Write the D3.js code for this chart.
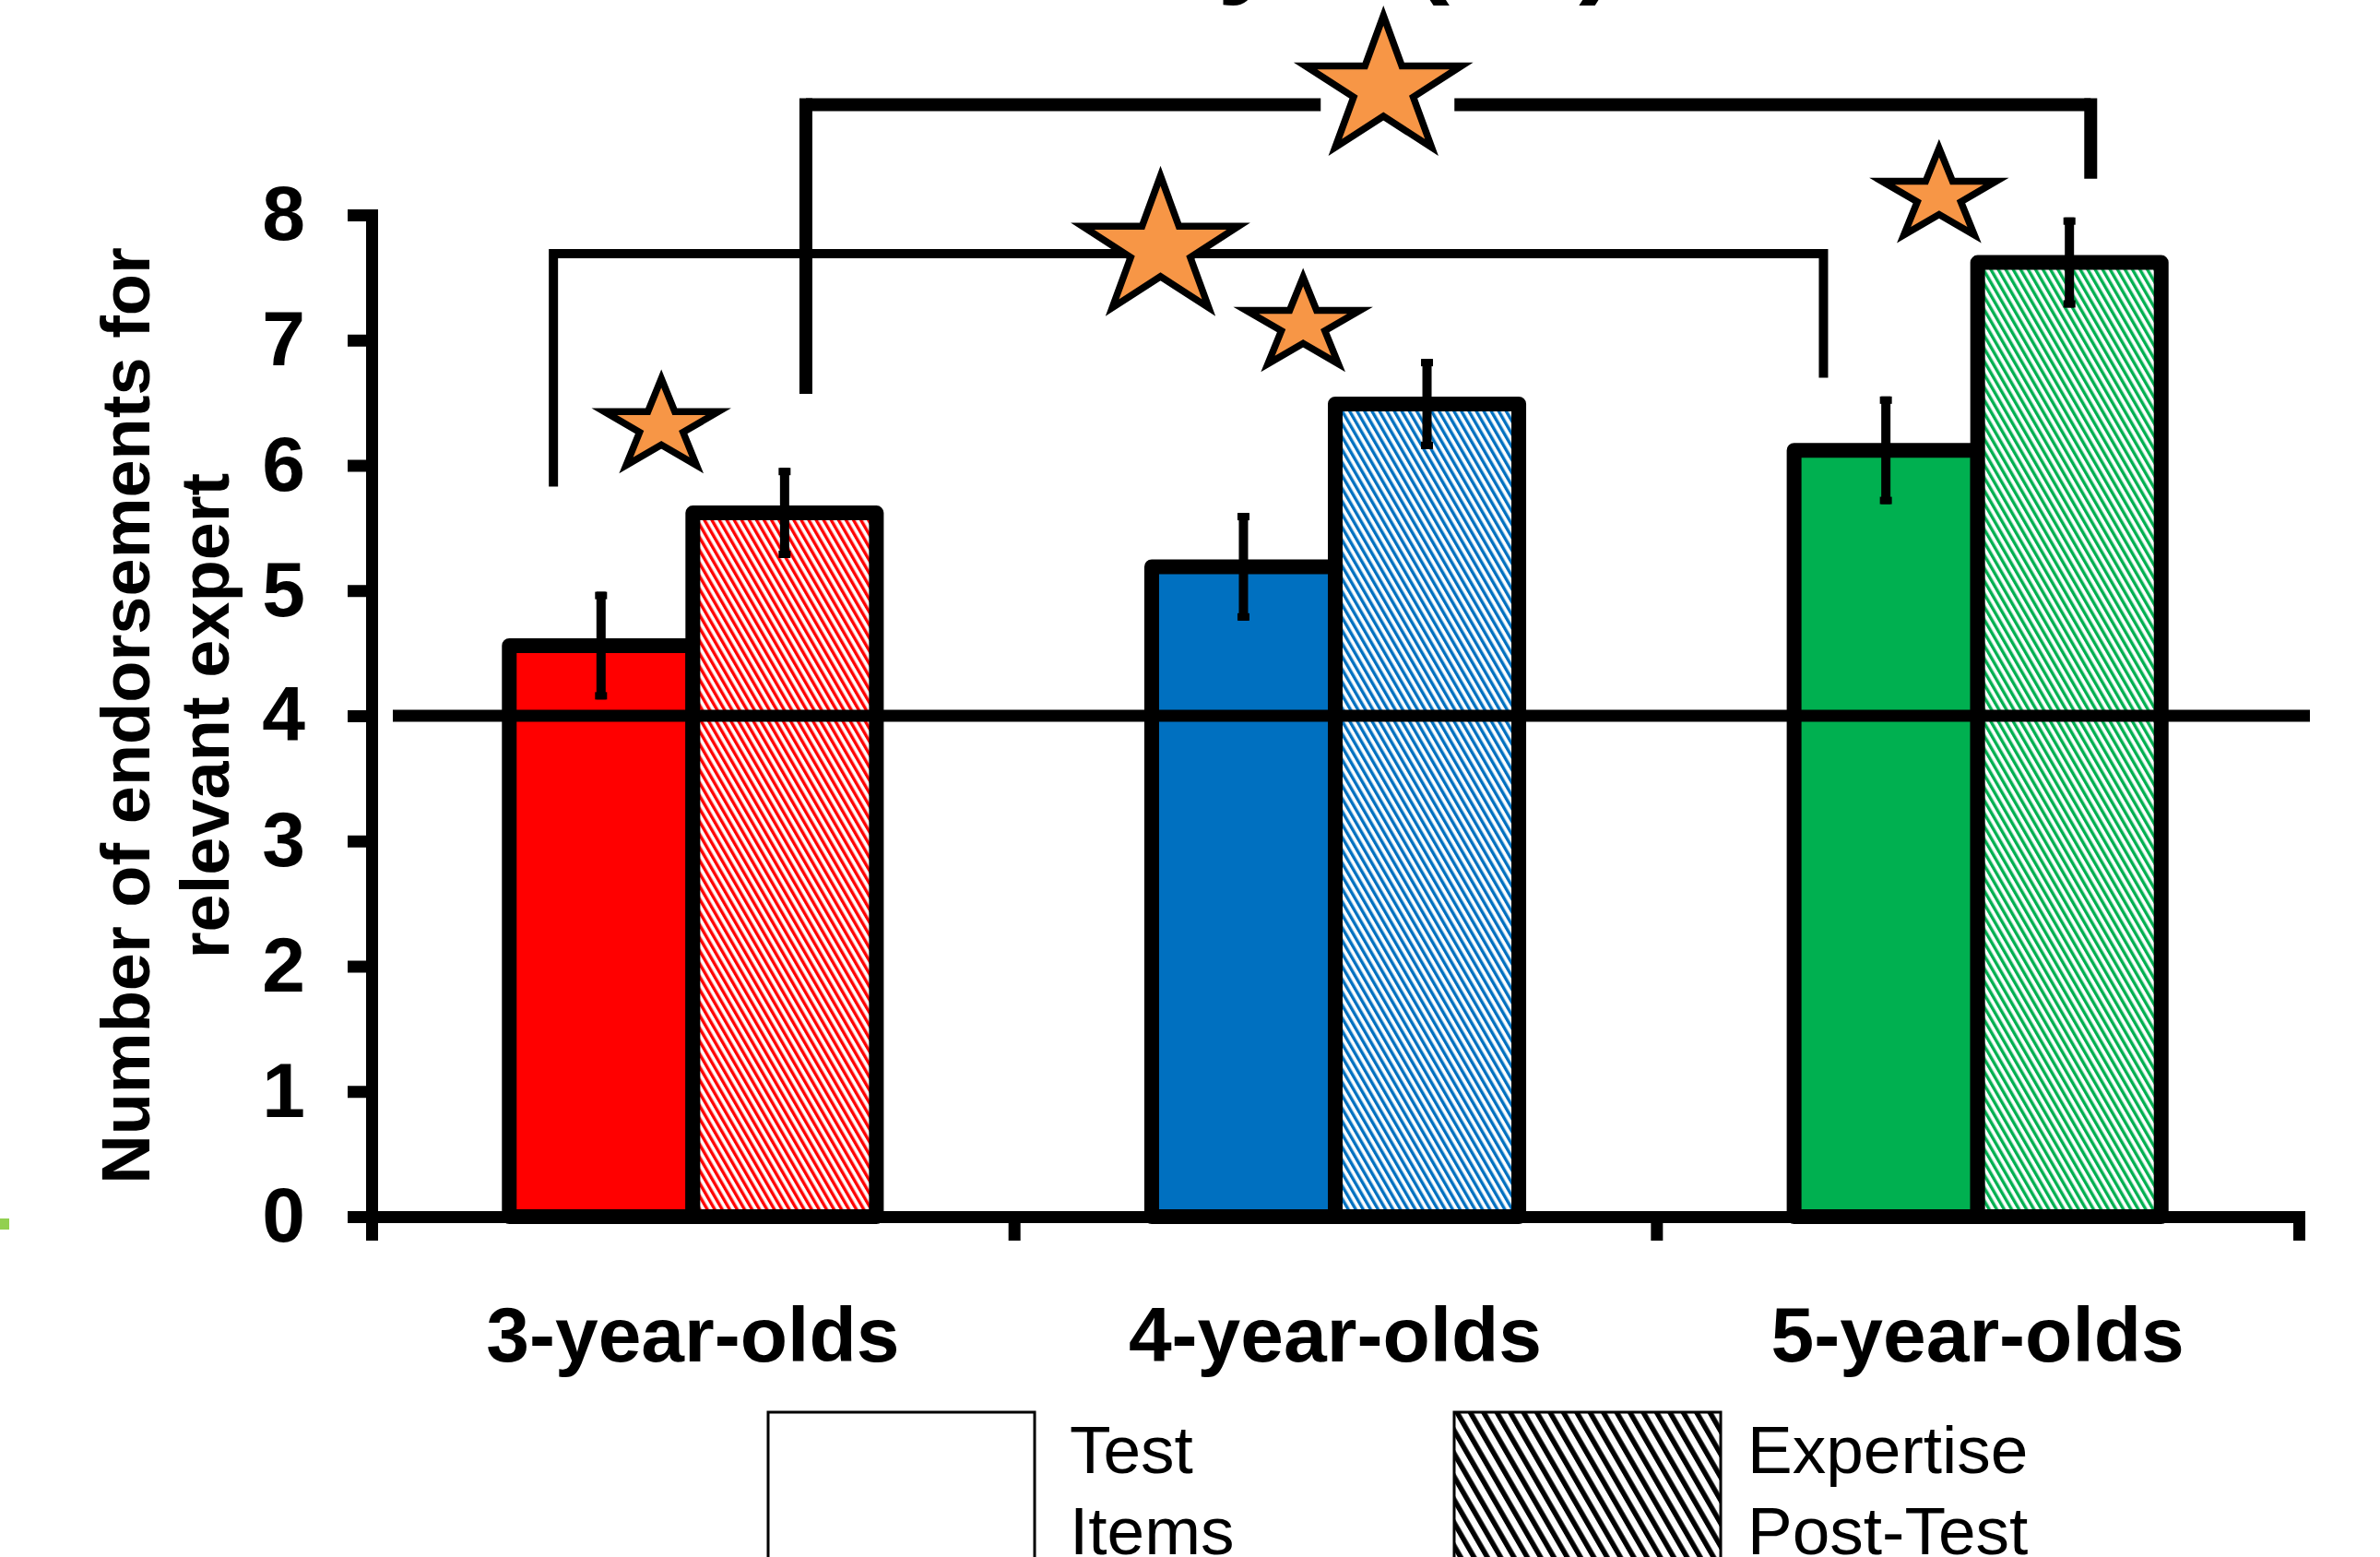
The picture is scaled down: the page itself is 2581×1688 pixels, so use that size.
<!DOCTYPE html>
<html>
<head>
<meta charset="utf-8">
<script src="https://cdn.jsdelivr.net/npm/d3@7"></script>
<style>
  html, body { margin: 0; padding: 0; background: #fff; overflow: hidden; }
  text { font-family: "Liberation Sans", Arial, sans-serif; }
</style>
</head>
<body>
<svg id="chart" width="2581" height="1688"></svg>
<script>
// ---- data ----
const ageGroups   = ["3-year-olds", "4-year-olds", "5-year-olds"];
const phases      = ["test", "post"];
const testMeans   = [4.56, 5.19, 6.12];
const postMeans   = [5.62, 6.49, 7.62];
const testErr     = [0.43, 0.43, 0.43];
const postErr     = [0.36, 0.36, 0.36];
const groupColors = ["#FF0000", "#0070C0", "#00B050"];
const yTicks      = [0, 1, 2, 3, 4, 5, 6, 7, 8];
const chanceLevel = 4;
const yTitleLines = ["Number of endorsements for", "relevant expert"];
const legendTest  = ["Test", "Items"];
const legendPost  = ["Expertise", "Post-Test"];
const titleText   = "Study 1 (all)";

// significance annotations (group index + fraction across the group band, value on y)
const pairBrackets = [
  { a: [0, 0.283], b: [2, 0.260], y: 7.69, aEnd: 5.83, bEnd: 6.70, w: 10, gap: null },
  { a: [0, 0.676], b: [2, 0.676], y: 8.88, aEnd: 6.57, bEnd: 8.29, w: 14, gap: [1, 0.575] }
];
const sigStars = [
  { g: 0, f: 0.451, y: 6.31, big: false },
  { g: 1, f: 0.450, y: 7.12, big: false },
  { g: 2, f: 0.440, y: 8.15, big: false },
  { g: 1, f: 0.228, y: 7.73, big: true },
  { g: 1, f: 0.575, y: 9.01, big: true }
];

// ---- layout ----
const svg = d3.select("#chart");
const plotLeft = 403, plotRight = 2493, plotTop = 233, plotBottom = 1319;
const axisW = 13;

const x = d3.scaleBand().domain(ageGroups).range([plotLeft, plotRight]).paddingInner(0).paddingOuter(0);
const xEdge = d3.scaleLinear().domain([0, ageGroups.length]).range([plotLeft, plotRight]);
const xPhase = d3.scaleBand().domain(phases).range([0, x.bandwidth()]).paddingInner(0).paddingOuter(0.75);
const y = d3.scaleLinear().domain([0, 8]).range([plotBottom, plotTop]);
const gx = (g, f) => x(ageGroups[g]) + f * x.bandwidth();

// ---- hatch patterns ----
const defs = svg.append("defs");
function hatch(id, color, period, stripe) {
  const p = defs.append("pattern")
    .attr("id", id).attr("patternUnits", "userSpaceOnUse")
    .attr("width", period).attr("height", period)
    .attr("patternTransform", "rotate(-30)");
  p.append("rect").attr("width", period).attr("height", period).attr("fill", "#fff");
  p.append("rect").attr("width", stripe).attr("height", period).attr("fill", color);
}
groupColors.forEach((c, i) => hatch("hatch" + i, c, 7, 3.4));
hatch("hatchLegend", "#000", 12.5, 5.5);

// stray marker at the left edge
svg.append("rect").attr("x", 0).attr("y", 1321).attr("width", 10).attr("height", 12).attr("fill", "#92D050");

// ---- title (runs off the top edge) ----
svg.append("text")
  .attr("x", 1040).attr("y", -20)
  .attr("font-size", 126).attr("font-weight", "bold")
  .text(titleText);

// ---- bars ----
const rows = ageGroups.map((g, i) => ({
  g, i,
  vals: [
    { phase: "test", v: testMeans[i], e: testErr[i], fill: groupColors[i] },
    { phase: "post", v: postMeans[i], e: postErr[i], fill: `url(#hatch${i})` }
  ]
}));

const barG = svg.append("g");
rows.forEach(r => {
  r.vals.forEach(d => {
    barG.append("rect")
      .attr("x", x(r.g) + xPhase(d.phase))
      .attr("y", y(d.v))
      .attr("width", xPhase.bandwidth())
      .attr("height", y(0) - y(d.v))
      .attr("fill", d.fill)
      .attr("stroke", "#000").attr("stroke-width", 16)
      .attr("stroke-linejoin", "round");
  });
});

// ---- axes ----
const yAxis = d3.axisLeft(y).tickValues(yTicks).tickSize(26).tickSizeOuter(0).tickPadding(46);
const yg = svg.append("g").attr("transform", `translate(${plotLeft},0)`).call(yAxis);
yg.select(".domain").attr("stroke-width", axisW).attr("stroke-linecap", "square");
yg.selectAll(".tick line").attr("stroke-width", axisW);
yg.selectAll(".tick text")
  .attr("font-size", 84).attr("font-weight", "bold").attr("fill", "#000")
  .attr("font-family", "'Liberation Sans', Arial, sans-serif");

const xAxis = d3.axisBottom(xEdge).tickValues(d3.range(ageGroups.length + 1)).tickSize(26).tickSizeOuter(0).tickFormat("");
const xg = svg.append("g").attr("transform", `translate(0,${plotBottom})`).call(xAxis);
xg.select(".domain").attr("stroke-width", axisW).attr("stroke-linecap", "square");
xg.selectAll(".tick line").attr("stroke-width", axisW);

// category labels
svg.append("g").selectAll("text").data(ageGroups).join("text")
  .attr("x", d => x(d) + x.bandwidth() / 2)
  .attr("y", 1476)
  .attr("text-anchor", "middle")
  .attr("font-size", 84).attr("font-weight", "bold")
  .text(d => d);

// y title
yTitleLines.forEach((t, i) => {
  svg.append("text")
    .attr("transform", `translate(${162 + i * 85.5},${(y(0) + y(8)) / 2}) rotate(-90)`)
    .attr("text-anchor", "middle")
    .attr("font-size", 74).attr("font-weight", "bold")
    .text(t);
});

// ---- chance line ----
svg.append("line")
  .attr("x1", plotLeft + 23).attr("x2", plotRight + 12)
  .attr("y1", y(chanceLevel)).attr("y2", y(chanceLevel))
  .attr("stroke", "#000").attr("stroke-width", 13);

// ---- error bars ----
const errG = svg.append("g");
rows.forEach(r => {
  r.vals.forEach(d => {
    const cx = x(r.g) + xPhase(d.phase) + xPhase.bandwidth() / 2;
    errG.append("line")
      .attr("x1", cx).attr("x2", cx)
      .attr("y1", y(d.v + d.e)).attr("y2", y(d.v - d.e))
      .attr("stroke", "#000").attr("stroke-width", 10);
    [d.v + d.e, d.v - d.e].forEach((v, k) => {
      errG.append("rect")
        .attr("x", cx - 6.5).attr("width", 13)
        .attr("y", k === 0 ? y(v) : y(v) - 8).attr("height", 8)
        .attr("fill", "#000");
    });
  });
});

// ---- star shape ----
function starPoints(rx, ry) {
  const pts = [];
  for (let k = 0; k < 10; k++) {
    const a = -Math.PI / 2 + k * Math.PI / 5;
    const r = k % 2 === 0 ? 1 : 0.382;
    pts.push([Math.cos(a) * r * rx, Math.sin(a) * r * ry]);
  }
  return pts;
}
const starLine = d3.line().curve(d3.curveLinearClosed);
const starSize = big => big ? [89, 79] : [65, 52];

// ---- brackets ----
const brG = svg.append("g").attr("fill", "none").attr("stroke", "#000");
pairBrackets.forEach(b => {
  const xa = gx(b.a[0], b.a[1]), xb = gx(b.b[0], b.b[1]), yy = y(b.y);
  brG.append("line").attr("x1", xa).attr("x2", xa).attr("y1", yy - b.w / 2).attr("y2", y(b.aEnd)).attr("stroke-width", b.w);
  brG.append("line").attr("x1", xb).attr("x2", xb).attr("y1", yy - b.w / 2).attr("y2", y(b.bEnd)).attr("stroke-width", b.w);
  if (b.gap) {
    const cx = gx(b.gap[0], b.gap[1]);
    brG.append("line").attr("x1", xa).attr("x2", cx - 68).attr("y1", yy).attr("y2", yy).attr("stroke-width", b.w);
    brG.append("line").attr("x1", cx + 77).attr("x2", xb).attr("y1", yy).attr("y2", yy).attr("stroke-width", b.w);
  } else {
    brG.append("line").attr("x1", xa).attr("x2", xb).attr("y1", yy).attr("y2", yy).attr("stroke-width", b.w);
  }
});

// ---- stars ----
svg.append("g").selectAll("path").data(sigStars).join("path")
  .attr("transform", d => `translate(${gx(d.g, d.f)},${y(d.y)})`)
  .attr("d", d => starLine(starPoints(...starSize(d.big))))
  .attr("fill", "#F79646")
  .attr("stroke", "#000").attr("stroke-width", 7.5)
  .attr("stroke-linejoin", "miter").attr("stroke-miterlimit", 10);

// ---- legend ----
const legY = 1531;
const leg = svg.append("g");
leg.append("rect").attr("x", 833).attr("y", legY).attr("width", 289).attr("height", 220)
  .attr("fill", "#fff").attr("stroke", "#000").attr("stroke-width", 3);
leg.append("rect").attr("x", 1577).attr("y", legY).attr("width", 289).attr("height", 220)
  .attr("fill", "url(#hatchLegend)").attr("stroke", "#000").attr("stroke-width", 3);
[[1160, legendTest], [1895, legendPost]].forEach(([lx, lines]) => {
  lines.forEach((t, i) => {
    leg.append("text").attr("x", lx).attr("y", 1597 + i * 88)
      .attr("font-size", 73).text(t);
  });
});
</script>
</body>
</html>
